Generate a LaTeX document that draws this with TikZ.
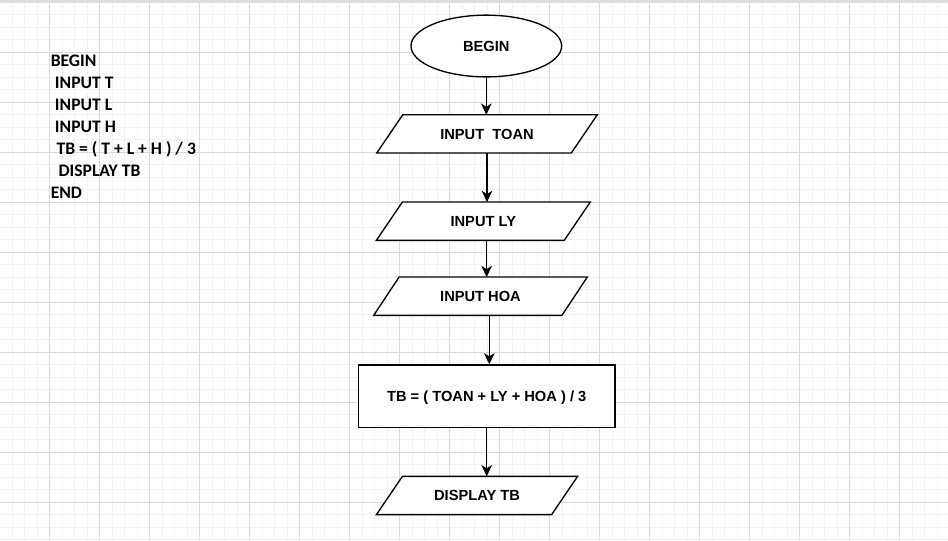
\documentclass[tikz,border=0pt]{standalone}
\usepackage{fontspec}
\setmainfont{Liberation Sans}
\newfontfamily\calib{Carlito}
\usetikzlibrary{shapes.geometric,arrows.meta}
\definecolor{gridminor}{HTML}{F2F2F2}
\definecolor{gridmajor}{HTML}{DADADA}
\definecolor{topband}{HTML}{DDDDDD}
\pgfdeclarelayer{gridl}
\pgfdeclarelayer{shp}
\pgfsetlayers{gridl,shp,main}
\newcommand\drawpara[2]{\begin{pgfonlayer}{shp}\draw[shapeline] ([xshift=#2]#1.north west) -- (#1.north east) -- ([xshift=-#2]#1.south east) -- (#1.south west) -- cycle;\end{pgfonlayer}}
\begin{document}
\begin{tikzpicture}[x=0.75pt,y=-0.75pt,
  shapeline/.style={draw=black,line width=1pt,fill=white},
  lbl/.style={font=\bfseries\fontsize{11}{13}\selectfont,text=black,text height=7.9pt,text depth=0pt,inner sep=0pt},
  pbox/.style={lbl,rectangle,minimum height=28.3pt},
  code/.style={font=\calib\bfseries\fontsize{13.2}{16}\selectfont,text=black,anchor=base west,inner sep=0pt},
  arr/.style={draw=black,line width=1pt,-{Stealth[length=8.5pt,width=8pt,inset=2.5pt]}}]
\useasboundingbox (0,0) rectangle (948,540);
% grid
\begin{pgfonlayer}{gridl}
\fill[white] (0,0) rectangle (948,540);
\foreach \i in {0,...,76} {\draw[gridminor,line width=0.75pt] ({-0.5+12.5*\i},0) -- ({-0.5+12.5*\i},540);}
\foreach \j in {0,...,43} {\draw[gridminor,line width=0.75pt] (0,{2.3+12.5*\j}) -- (948,{2.3+12.5*\j});}
\foreach \i in {0,...,19} {\draw[gridmajor,line width=0.75pt] ({-0.5+50*\i},0) -- ({-0.5+50*\i},540);}
\foreach \j in {0,...,10} {\draw[gridmajor,line width=0.75pt] (0,{2.3+50*\j}) -- (948,{2.3+50*\j});}
\fill[topband] (0,0) rectangle (948,2.5);
\end{pgfonlayer}
% pseudo code
\node[code] (c1) at (50.5,66) {BEGIN};
\node[code] (c2) at (54.7,88) {INPUT T};
\node[code] (c3) at (54.7,110) {INPUT L};
\node[code] (c4) at (54.7,132) {INPUT H};
\node[code] (c5) at (56.3,154) {TB = ( T + L + H ) / 3};
\node[code] (c6) at (58.3,176) {DISPLAY TB};
\node[code] (c7) at (50.5,198) {END};
% flowchart
\node[lbl,ellipse,shapeline,minimum width=113pt,minimum height=46.3pt] (begin) at (486.3,46) {BEGIN};
\node[pbox,minimum width=165pt] (toan) at (487,133.9) {INPUT~~TOAN};
\drawpara{toan}{19.5pt}
\node[pbox,minimum width=160pt] (ly) at (483.3,221.2) {INPUT LY};
\drawpara{ly}{19.5pt}
\node[pbox,minimum width=159.75pt] (hoa) at (480.5,296.2) {INPUT HOA};
\drawpara{hoa}{19pt}
\node[lbl,rectangle,shapeline,minimum width=192.5pt,minimum height=46.7pt] (calc) at (486.7,396.2) {TB = ( TOAN + LY + HOA ) / 3};
\node[pbox,minimum width=150.5pt] (disp) at (477,495.5) {DISPLAY TB};
\drawpara{disp}{19.5pt}
% connectors
\draw[arr] (begin.south) -- (begin.south |- toan.north);
\draw[arr] (toan.south) -- (toan.south |- ly.north);
\draw[arr] ([xshift=2.5pt]ly.south) -- ([xshift=2.5pt]ly.south |- hoa.north);
\draw[arr] ([xshift=6.6pt]hoa.south) -- ([xshift=6.6pt]hoa.south |- calc.north);
\draw[arr] (calc.south) -- (calc.south |- disp.north);
\end{tikzpicture}
\end{document}
